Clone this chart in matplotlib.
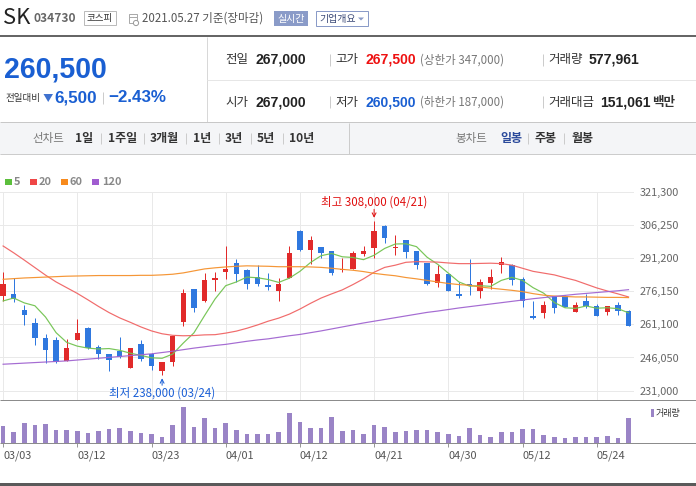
import matplotlib
matplotlib.use('Agg')
import matplotlib.pyplot as plt
from matplotlib.patches import Rectangle, Polygon

plt.rcParams['font.family'] = ['Noto Sans CJK KR', 'DejaVu Sans']

# ---------------- data ----------------
dates = ['03/03', '03/04', '03/05', '03/08', '03/09', '03/10', '03/11', '03/12', '03/15', '03/16',
         '03/17', '03/18', '03/19', '03/22', '03/23', '03/24', '03/25', '03/26', '03/29', '03/30',
         '03/31', '04/01', '04/02', '04/05', '04/06', '04/07', '04/08', '04/09', '04/12', '04/13',
         '04/14', '04/15', '04/16', '04/19', '04/20', '04/21', '04/22', '04/23', '04/26', '04/27',
         '04/28', '04/29', '04/30', '05/03', '05/04', '05/06', '05/07', '05/10', '05/11', '05/12',
         '05/13', '05/14', '05/17', '05/18', '05/20', '05/21', '05/24', '05/25', '05/26', '05/27']
opens = [274000, 275000, 267500, 261500, 255000, 254000, 244500, 254000, 259500, 251000,
         247500, 249000, 241500, 252000, 247500, 240000, 244000, 262000, 277000, 271500,
         281000, 285000, 289000, 285500, 282500, 279000, 276000, 282000, 303500, 295000,
         296000, 294500, 285500, 286000, 293000, 295500, 305500, 295500, 299500, 294500,
         289000, 280000, 284000, 275000, 279500, 276000, 280000, 288000, 288000, 281500,
         265000, 266000, 274000, 274000, 266500, 271500, 269500, 266500, 270000, 267000]
highs = [285000, 282000, 270000, 264000, 256500, 255500, 254500, 263500, 260000, 251500,
         247500, 255500, 250500, 254000, 248000, 244000, 256000, 277000, 277000, 284500,
         285000, 296500, 290500, 286000, 288000, 284500, 282000, 296500, 304000, 301000,
         296000, 294500, 291000, 294500, 296500, 308000, 306000, 301500, 299500, 294500,
         289000, 288000, 284000, 280500, 290500, 281500, 286000, 291500, 288500, 282500,
         271500, 271500, 274000, 274500, 271000, 275000, 270500, 269500, 271000, 267500]
lows = [271500, 271000, 261000, 251500, 243500, 243500, 244500, 254000, 250000, 245500,
        240000, 246000, 241500, 244500, 240500, 238000, 242000, 260500, 266500, 271000,
        276000, 281500, 280500, 277000, 278500, 276500, 271500, 282000, 294500, 288500,
        291000, 283500, 285000, 286000, 292000, 291000, 298000, 292500, 291000, 286000,
        279000, 278000, 276000, 273000, 274500, 273000, 277000, 284500, 279000, 269000,
        263500, 264000, 266000, 269000, 266500, 268500, 265000, 265500, 265500, 260500]
closes = [279500, 272500, 265500, 255000, 249500, 244000, 250500, 257000, 250500, 247500,
          245000, 246500, 250500, 245500, 242000, 244000, 256000, 275500, 268500, 281000,
          282000, 286000, 284000, 279500, 279500, 278000, 279500, 293500, 295000, 299500,
          293500, 284500, 286000, 293500, 294500, 303500, 300000, 296000, 294000, 288000,
          279500, 284000, 276000, 274000, 278500, 280500, 282500, 289500, 281000, 271500,
          264000, 270000, 268500, 269000, 270000, 269500, 265000, 269500, 267000, 260500]
volumes = [393000, 254000, 462000, 416000, 439000, 301000, 301000, 277000, 231000, 277000,
           324000, 347000, 277000, 231000, 208000, 139000, 416000, 832000, 370000, 578000,
           347000, 462000, 301000, 208000, 208000, 208000, 254000, 694000, 485000, 347000,
           347000, 601000, 277000, 301000, 208000, 416000, 370000, 254000, 277000, 301000,
           301000, 254000, 208000, 162000, 347000, 185000, 139000, 254000, 254000, 324000,
           324000, 185000, 139000, 116000, 139000, 139000, 139000, 162000, 116000, 577961]
ma5 = [271700, 273000, 270800, 269500, 264400, 257300, 252900, 251200, 250300, 249900,
       250100, 249300, 248000, 247000, 245900, 245700, 247600, 252600, 257200, 265000,
       272600, 278600, 280300, 282500, 282200, 281400, 280100, 282000, 285100, 289100,
       292200, 293200, 291700, 291400, 290400, 292400, 295500, 297500, 297600, 296300,
       291500, 288300, 284300, 280300, 278400, 278600, 278300, 281000, 282400, 281000,
       277700, 275200, 271000, 268600, 268300, 269400, 268400, 268600, 268200, 266300]
ma20 = [296600, 293500, 290200, 286800, 283400, 280300, 277700, 275100, 272200, 269200,
        266400, 264000, 262000, 259900, 258100, 256800, 256100, 255900, 256000, 256300,
        256400, 257100, 258000, 259300, 260800, 262500, 263900, 265700, 268000, 270600,
        273000, 274900, 276700, 279100, 281700, 284700, 286900, 287900, 289200, 289500,
        289400, 289300, 288900, 288600, 288600, 288700, 288800, 288600, 287900, 286500,
        285100, 284300, 283500, 282200, 281000, 279300, 277600, 276200, 274900, 273500]
ma60 = [281500, 281800, 282100, 282300, 282500, 282700, 282900, 283000, 283100, 283200,
        283200, 283200, 283200, 283300, 283300, 283500, 283800, 284400, 285300, 286200,
        286700, 287100, 287400, 287600, 287500, 287400, 287200, 287200, 287200, 287100,
        286900, 286500, 286000, 285600, 285000, 284200, 283600, 283100, 282300, 281700,
        281000, 280300, 279600, 279100, 278800, 278000, 277500, 277000, 276500, 275900,
        275000, 274300, 273900, 273700, 273500, 273500, 273400, 273300, 273300, 273200]
ma120 = [243000, 243250, 243500, 243750, 244000, 244250, 244500, 244900, 245300, 245700,
         246100, 246500, 246900, 247300, 247700, 248300, 248900, 249600, 250300, 250900,
         251500, 252000, 252700, 253400, 254000, 254500, 255200, 255900, 256500, 257300,
         258100, 259000, 259900, 260800, 261700, 262500, 263300, 264100, 264900, 265700,
         266500, 267100, 267800, 268500, 269100, 269700, 270300, 270900, 271500, 272100,
         272700, 273200, 273700, 274200, 274700, 275100, 275500, 275900, 276300, 276800]
tick_dates = ['03/03', '03/12', '03/23', '04/01', '04/12', '04/21', '04/30', '05/12', '05/24']
price_ticks = [231000, 246050, 261100, 276150, 291200, 306250, 321300]
ma_labels = ['5', '20', '60', '120']
ma_series = [ma5, ma20, ma60, ma120]
ma_colors = ['#72c350', '#f06464', '#f5912c', '#a064d0']
legend_colors = ['#5cbf3c', '#ef4646', '#f78a1d', '#a05cd0']

# ---------------- layout ----------------
W, H = 696, 486
PT = 0.72
fig = plt.figure(figsize=(W / 100, H / 100), dpi=100)
fig.patch.set_facecolor('white')


def box(x0, y0, x1, y1):
    return [x0 / W, 1 - y1 / H, (x1 - x0) / W, (y1 - y0) / H]


n = len(dates)
idx = list(range(n))
step, x_first, plot_right = 10.6, 3.1, 634
xlims = (-x_first / step, (plot_right - x_first) / step)

UP, DOWN = '#e12a2a', '#2f78df'
colors = [UP if c >= o else DOWN for o, c in zip(opens, closes)]

# price panel
axp = fig.add_axes(box(0, 191.5, plot_right, 400.3))
axp.set_facecolor('none')
axp.set_xlim(*xlims)
axp.set_ylim(226645, 321300)
for s in axp.spines.values():
    s.set_visible(False)
axp.set_yticks(price_ticks)
axp.set_yticklabels([f'{v:,}' for v in price_ticks])
axp.yaxis.tick_right()
axp.tick_params(axis='y', length=0, pad=4, labelsize=11 * PT, labelcolor='#666666')
axp.set_xticks([dates.index(d) for d in tick_dates])
axp.tick_params(axis='x', length=0, labelbottom=False)
axp.grid(True, color='#e9e9e9', lw=1 * PT, zorder=0)
axp.set_axisbelow(True)

axp.vlines(idx, lows, highs, colors=colors, lw=1 * PT, zorder=2)
bottoms = [min(o, c) for o, c in zip(opens, closes)]
heights = [max(abs(c - o), 450) for o, c in zip(opens, closes)]
axp.bar(idx, heights, bottom=bottoms, width=0.5, color=colors, lw=0, zorder=3)
for ser, col in zip(ma_series, ma_colors):
    axp.plot(idx, ser, color=col, lw=1.2 * PT, zorder=4, alpha=0.95)

i_hi = highs.index(max(highs))
i_lo = lows.index(min(lows))
axp.annotate('', xy=(i_hi, highs[i_hi]), xytext=(0, 11.5 * PT), textcoords='offset points',
             arrowprops=dict(arrowstyle='->', color='#e01010', lw=1 * PT, shrinkA=0,
                             shrinkB=3 * PT, mutation_scale=7), zorder=6)
axp.annotate(f'최고 {highs[i_hi]:,} ({dates[i_hi]})', xy=(i_hi, highs[i_hi]),
             xytext=(0, 18.5 * PT), textcoords='offset points', ha='center', va='center',
             fontsize=11.5 * PT, color='#e01010', zorder=6)
axp.annotate('', xy=(i_lo, lows[i_lo]), xytext=(0, -10 * PT), textcoords='offset points',
             arrowprops=dict(arrowstyle='->', color='#1a5fd6', lw=1 * PT, shrinkA=0,
                             shrinkB=3 * PT, mutation_scale=7), zorder=6)
axp.annotate(f'최저 {lows[i_lo]:,} ({dates[i_lo]})', xy=(i_lo, lows[i_lo]),
             xytext=(0, -17.7 * PT), textcoords='offset points', ha='center', va='center',
             fontsize=11.5 * PT, color='#1a5fd6', zorder=6)

# volume panel
axv = fig.add_axes(box(0, 400.3, plot_right, 443))
axv.set_facecolor('none')
axv.set_xlim(*xlims)
axv.set_ylim(0, 987000)
for s in axv.spines.values():
    s.set_visible(False)
axv.bar(idx, volumes, width=0.45, color='#9a84c6', lw=0)
axv.set_yticks([])
axv.set_xticks([dates.index(d) for d in tick_dates])
axv.set_xticklabels(tick_dates, ha='left')
axv.tick_params(axis='x', direction='out', length=4 * PT, width=1 * PT, color='#999999',
                pad=2.5, labelsize=11 * PT, labelcolor='#555555')

# ---------------- overlay (page furniture) ----------------
ov = fig.add_axes([0, 0, 1, 1], zorder=10)
ov.set_xlim(0, W)
ov.set_ylim(H, 0)
ov.axis('off')
ov.patch.set_alpha(0)


def T(x, y, s, size, color='#333333', weight='normal', ha='left', va='center', **kw):
    ov.text(x, y, s, fontsize=size * PT, color=color, fontweight=weight, ha=ha, va=va, **kw)


def L(x0, y0, x1, y1, color, lw=1.0):
    ov.plot([x0, x1], [y0, y1], color=color, lw=lw * PT, solid_capstyle='butt')


NUMF = ['Liberation Sans', 'DejaVu Sans']

# top row
T(3, 17.5, 'SK', 22, '#222222')
T(33, 18.5, '034730', 12, '#666666', 'bold')
ov.add_patch(Rectangle((83.5, 11.5), 32, 14, fc='white', ec='#bbbbbb', lw=1 * PT))
T(99.5, 18.5, '코스피', 9.5, '#333333', ha='center')
ov.add_patch(Rectangle((128.5, 14.5), 8, 9, fc='white', ec='#aaaaaa', lw=1 * PT))
L(128.5, 17, 136.5, 17, '#aaaaaa')
ov.add_patch(plt.Circle((136, 23), 2.6, fc='white', ec='#999999', lw=1 * PT))
T(142, 18, '2021.05.27 기준(장마감)', 11.5, '#555555')
ov.add_patch(Rectangle((274, 11.5), 34, 14.5, fc='#8a9bc8', ec='none'))
T(291, 18.7, '실시간', 10, 'white', ha='center')
ov.add_patch(Rectangle((315.5, 11.5), 52, 14.5, fc='white', ec='#8a9bc8', lw=1 * PT))
T(319.5, 18.7, '기업개요', 10, '#3c4a78')
ov.add_patch(Polygon([(358, 17.5), (364, 17.5), (361, 20.5)], closed=True, fc='#8a9bc8', ec='none'))

ov.add_patch(Rectangle((0, 35), W, 2.5, fc='#666666', ec='none'))

# price summary
T(4, 70, '260,500', 28.5, '#1a5fd2', 'bold', family=NUMF)
T(5, 98, '전일대비', 9.5, '#333333')
ov.add_patch(Polygon([(43.5, 94), (53, 94), (48.2, 102)], closed=True, fc='#3f72cf', ec='none'))
T(54, 97.5, '6,500', 17, '#1a5fd2', 'bold', family=NUMF)
L(103, 92, 103, 104, '#cccccc')
T(108, 97.5, '\u22122.43%', 17, '#1a5fd2', 'bold', family=NUMF)

L(206.5, 37.5, 206.5, 122.5, '#d8d8d8')
L(207, 80.5, W, 80.5, '#e6e6e6')

rows = [
    (60, [('전일', '267,000', '#222222'), ('고가', '267,500', '#ee1111'), ('거래량', '577,961', '#222222')],
     '(상한가 347,000)', None),
    (102, [('시가', '267,000', '#222222'), ('저가', '260,500', '#1a5fd2'), ('거래대금', '151,061', '#222222')],
     '(하한가 187,000)', '백만'),
]
for y, items, paren, unit in rows:
    (l1, v1, c1), (l2, v2, c2), (l3, v3, c3) = items
    T(225, y, l1, 12.5, '#333333')
    T(255, y, v1, 14, c1, 'bold', family=NUMF)
    L(329.5, y - 6, 329.5, y + 6, '#cccccc')
    T(335, y, l2, 12.5, '#333333')
    T(365, y, v2, 14, c2, 'bold', family=NUMF)
    T(420, y, paren, 11.5, '#777777')
    L(542.5, y - 6, 542.5, y + 6, '#cccccc')
    T(548, y, l3, 12.5, '#333333')
    vx = 589 if unit is None else 600
    T(vx, y, v3, 14, c3, 'bold', family=NUMF)
    if unit:
        T(652, y, unit, 12.5, '#333333', 'bold')

# toolbar
ov.add_patch(Rectangle((0, 122.5), W, 32, fc='#f4f5f7', ec='none'))
L(0, 122.5, W, 122.5, '#c8c8c8')
L(0, 154.5, W, 154.5, '#cccccc')
L(348.5, 123, 348.5, 154, '#cccccc')
ty = 138.5
T(32, ty, '선차트', 11.5, '#777777')
line_items = [(75, '1일'), (108, '1주일'), (150, '3개월'), (193, '1년'), (225, '3년'), (257, '5년'), (289, '10년')]
for x, s in line_items:
    T(x, ty, s, 12, '#333333', 'bold')
for x in [100.5, 143.5, 185.5, 218.5, 250.5, 282.5]:
    L(x, ty - 5.5, x, ty + 5.5, '#cccccc')
T(455, ty, '봉차트', 11.5, '#777777')
T(500, ty, '일봉', 12, '#2b4a9b', 'bold')
L(527.5, ty - 5.5, 527.5, ty + 5.5, '#cccccc')
T(535, ty, '주봉', 12, '#333333', 'bold')
L(563.5, ty - 5.5, 563.5, ty + 5.5, '#cccccc')
T(572, ty, '월봉', 12, '#333333', 'bold')

# MA legend
lx = [(5, 14), (30, 39), (61, 70), (92, 102)]
for (sx, tx), lab, col in zip(lx, ma_labels, legend_colors):
    ov.add_patch(Rectangle((sx, 178.5), 6.7, 6.7, fc=col, ec='none'))
    T(tx, 182, lab, 11, '#888888', 'bold')

# panel borders
L(0, 400.3, W, 400.3, '#8c8c8c')
L(0, 443, W, 443, '#8c8c8c')
ov.add_patch(Rectangle((651, 409), 3, 8, fc='#9a84c6', ec='none'))
T(656, 413, '거래량', 9, '#333333')
ov.add_patch(Rectangle((0, 483), W, 3, fc='#5a5a5a', ec='none'))

fig.savefig('out.png', dpi=100, facecolor='white')
